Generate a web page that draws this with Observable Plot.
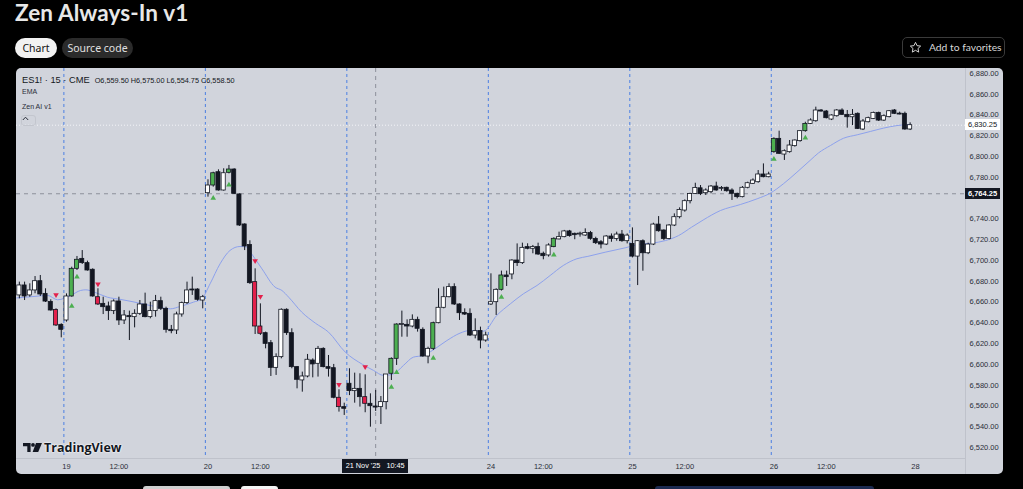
<!DOCTYPE html>
<html><head><meta charset="utf-8">
<script src="https://cdn.jsdelivr.net/npm/d3@7"></script>
<script src="https://cdn.jsdelivr.net/npm/@observablehq/plot@0.6"></script>
<style>
html,body{margin:0;padding:0;background:#000;}
body{width:1023px;height:489px;overflow:hidden;position:relative;font-family:"Liberation Sans",Arial,sans-serif;}
#title{position:absolute;left:15px;top:-1px;font:700 22.5px Lato,"Open Sans",sans-serif;color:#e8e8e8;white-space:nowrap;letter-spacing:0.1px;}
.pill{position:absolute;top:38px;height:20px;border-radius:10px;font:400 10.5px "Noto Sans",Inter,sans-serif;line-height:20px;text-align:center;white-space:nowrap;}
#fav{position:absolute;left:902px;top:37px;width:101px;height:19px;border:1px solid #3a3a3a;border-radius:5px;color:#d8d8d8;font:400 10.3px Lato,"Noto Sans",sans-serif;line-height:19px;white-space:nowrap;}
#panel{position:absolute;left:16px;top:68px;width:987px;height:406px;background:#d1d4dc;border-radius:5px;overflow:hidden;}
#panel svg{position:absolute;left:0;top:0;}
.ov{position:absolute;white-space:nowrap;color:#131722;}
.strip{position:absolute;top:486px;height:4px;border-radius:3px 3px 0 0;}
</style></head>
<body>
<div id="title">Zen Always-In v1</div>
<div class="pill" style="left:15px;width:42px;background:#f2f2f2;color:#111;">Chart</div>
<div class="pill" style="left:62px;width:71px;background:#2b2b2b;color:#e0e0e0;">Source code</div>
<div id="fav"><svg width="13" height="13" viewBox="0 0 24 24" style="position:absolute;left:6px;top:3px"><path d="M12 2.5l2.9 6.1 6.6.8-4.9 4.5 1.3 6.6L12 17.2l-5.9 3.3 1.3-6.6-4.9-4.5 6.6-.8z" fill="none" stroke="#d8d8d8" stroke-width="1.8" stroke-linejoin="round"/></svg><span style="position:absolute;left:26px;top:0">Add to favorites</span></div>
<div id="panel"></div>
<div class="strip" style="left:143px;width:87px;background:#cfcfcf;"></div>
<div class="strip" style="left:241px;width:37px;background:#f4f4f4;"></div>
<div class="strip" style="left:655px;width:219px;background:#1c2a50;"></div>
<script>
// ---- data (bar index 0 = 19 Nov 09:30, 15-min bars, 27 per session) ----
const barStart = -9;
const opens = [
6666.4,6676.0,6666.4,6671.2,6680.1,6667.9,6660.2,6652.5,6638.1,6642.3,
6665.4,6692.0,6701.6,6697.5,6691.1,6664.7,6658.3,6655.8,6651.3,6660.6,
6642.3,6646.5,6645.5,6648.7,6657.7,6645.5,6651.3,6660.9,6653.5,6633.3,
6632.7,6648.1,6659.0,6671.8,6672.1,6661.5,6764.8,6772.2,6785.0,6767.4,
6784.4,6787.6,6763.6,6734.7,6715.0,6679.2,6636.5,6630.1,6620.5,6596.7,
6607.0,6652.6,6630.1,6597.4,6584.6,6588.4,6603.8,6600.6,6615.0,6597.4,
6596.4,6567.9,6558.9,6581.4,6574.3,6576.5,6568.5,6562.1,6559.5,6558.9,
6563.7,6591.0,6605.4,6638.0,6638.1,6636.5,6642.9,6633.3,6607.6,6615.0,
6639.7,6654.5,6664.7,6674.4,6657.7,6649.6,6648.7,6627.8,6632.1,6623.0,
6657.7,6659.9,6671.8,6685.6,6686.6,6700.0,6697.5,6712.9,6711.3,6712.9,
6706.5,6704.9,6712.9,6720.3,6722.5,6728.0,6725.7,6725.0,6724.1,6726.4,
6720.8,6717.6,6715.4,6723.1,6720.8,6725.0,6718.6,6716.0,6703.8,6718.6,
6707.0,6715.4,6734.6,6728.9,6720.8,6733.7,6741.7,6748.1,6757.1,6764.1,
6769.5,6764.8,6765.8,6771.2,6769.0,6770.0,6767.4,6764.2,6761.0,6770.0,
6773.8,6775.4,6782.8,6780.2,6804.3,6817.1,6802.0,6804.3,6810.1,6814.9,
6824.5,6831.5,6834.1,6844.4,6843.4,6835.7,6838.9,6844.4,6840.2,6837.9,
6841.2,6826.1,6833.1,6836.3,6842.1,6834.7,6838.0,6844.4,6841.2,6841.2,
6826.1];
const highs = [
6679.2,6679.2,6677.6,6684.6,6685.6,6672.8,6662.2,6653.5,6639.1,6667.9,
6693.6,6703.9,6709.6,6699.4,6692.0,6672.8,6664.7,6660.0,6662.2,6664.7,
6651.9,6651.3,6652.6,6661.5,6668.6,6659.9,6666.4,6664.7,6655.1,6637.5,
6650.3,6660.0,6679.2,6684.0,6672.8,6666.4,6777.7,6785.0,6787.3,6788.3,
6791.5,6788.3,6764.2,6735.3,6719.0,6692.0,6658.3,6631.1,6623.0,6610.2,
6653.5,6653.5,6634.3,6598.0,6592.6,6609.6,6605.4,6617.3,6616.0,6608.6,
6600.0,6575.6,6562.7,6595.8,6591.6,6591.0,6590.0,6571.7,6575.0,6569.1,
6590.3,6606.3,6639.1,6651.3,6642.9,6647.7,6645.5,6635.2,6616.6,6640.7,
6672.8,6674.4,6677.6,6677.6,6658.3,6653.5,6653.5,6643.9,6635.9,6631.1,
6687.2,6672.8,6689.8,6689.8,6700.7,6716.0,6716.7,6716.1,6714.5,6716.7,
6708.1,6716.1,6721.9,6727.3,6729.0,6729.0,6726.4,6727.3,6730.5,6728.0,
6722.4,6719.2,6724.0,6725.6,6727.3,6728.9,6725.6,6731.4,6719.2,6719.9,
6716.7,6735.9,6742.3,6729.5,6734.6,6744.9,6750.7,6758.4,6764.8,6774.4,
6772.2,6769.0,6772.2,6775.4,6771.2,6770.6,6769.0,6764.8,6771.2,6775.4,
6778.6,6786.6,6793.0,6785.0,6818.1,6824.5,6806.5,6815.5,6816.1,6825.1,
6833.1,6836.4,6847.6,6845.3,6844.4,6840.2,6845.3,6846.0,6844.4,6845.3,
6842.1,6835.7,6838.0,6842.8,6842.8,6840.2,6844.4,6845.3,6842.8,6842.8,
6832.5];
const lows = [
6663.1,6661.5,6664.7,6668.0,6665.4,6659.6,6651.3,6636.5,6625.6,6640.7,
6664.7,6690.4,6696.2,6689.8,6664.7,6656.7,6648.0,6642.3,6648.0,6637.5,
6638.4,6623.0,6635.2,6647.1,6644.9,6643.9,6645.5,6651.9,6630.1,6629.5,
6628.8,6645.5,6657.7,6666.4,6660.9,6653.5,6761.0,6770.6,6766.8,6766.8,
6783.4,6763.6,6732.8,6709.6,6677.0,6628.8,6627.9,6615.0,6588.4,6589.4,
6605.4,6627.9,6595.8,6576.5,6573.3,6587.1,6587.1,6587.8,6596.7,6587.8,
6566.9,6554.1,6550.9,6570.0,6562.7,6558.9,6553.5,6539.6,6554.75,6542.2,
6556.3,6584.5,6599.0,6626.2,6626.2,6635.2,6631.1,6607.0,6600.6,6613.4,
6639.1,6653.5,6664.1,6656.7,6642.3,6647.1,6626.9,6624.6,6615.0,6621.4,
6656.7,6647.1,6670.6,6675.0,6681.5,6694.3,6696.2,6710.3,6706.5,6704.9,
6700.7,6703.3,6712.3,6719.9,6721.9,6722.5,6720.0,6722.5,6723.2,6719.5,
6715.4,6711.2,6714.4,6717.6,6718.6,6717.6,6716.0,6702.5,6675.9,6689.7,
6705.7,6714.4,6727.3,6719.2,6719.9,6732.7,6740.1,6746.5,6754.5,6763.5,
6762.5,6762.6,6764.2,6766.7,6766.7,6765.8,6757.8,6759.4,6760.3,6769.0,
6773.2,6774.4,6779.6,6779.6,6803.3,6802.0,6796.3,6803.3,6809.1,6813.9,
6823.5,6830.9,6833.1,6842.8,6836.3,6834.7,6838.0,6839.6,6827.4,6829.9,
6826.1,6825.1,6832.5,6835.7,6833.8,6833.8,6837.3,6840.5,6840.2,6825.4,
6825.1];
const closes = [
6676.0,6665.4,6671.2,6680.1,6667.3,6660.5,6651.9,6637.5,6633.3,6665.4,
6692.0,6700.7,6697.5,6690.4,6665.4,6657.7,6655.1,6651.3,6660.6,6642.3,
6647.1,6645.5,6648.7,6657.7,6645.5,6651.3,6660.9,6653.5,6633.3,6632.0,
6648.1,6659.0,6671.2,6671.2,6662.2,6664.7,6772.2,6784.0,6767.4,6784.0,
6787.6,6764.2,6733.7,6713.5,6678.2,6636.5,6629.5,6619.8,6596.7,6607.0,
6652.6,6630.1,6597.4,6585.2,6588.4,6604.5,6600.0,6615.0,6597.4,6595.8,
6567.9,6558.9,6557.3,6574.3,6576.5,6568.5,6562.1,6559.8,6558.5,6563.7,
6590.3,6605.4,6638.4,6638.5,6636.5,6642.9,6634.3,6607.6,6615.0,6639.7,
6654.5,6664.7,6674.4,6657.7,6649.3,6648.0,6627.8,6632.0,6623.0,6627.9,
6659.9,6671.8,6685.6,6684.0,6700.0,6697.5,6712.2,6711.3,6712.9,6705.8,
6704.2,6714.5,6720.9,6722.5,6728.0,6723.5,6724.4,6725.1,6726.4,6720.9,
6716.7,6715.4,6723.1,6720.8,6725.0,6718.6,6724.0,6703.8,6718.6,6707.0,
6715.4,6734.6,6728.2,6720.8,6733.7,6741.7,6748.7,6757.1,6764.1,6769.9,
6764.0,6767.4,6771.2,6767.4,6769.3,6766.7,6764.2,6761.0,6770.0,6774.4,
6777.0,6782.8,6780.2,6782.8,6817.1,6802.7,6805.2,6810.7,6815.5,6824.5,
6831.5,6834.8,6844.4,6843.4,6837.0,6839.6,6844.4,6840.2,6837.9,6840.2,
6826.7,6833.8,6837.0,6842.1,6834.7,6838.9,6843.7,6841.2,6840.5,6826.1,
6830.25];

// Zen AI signals (bar index, marker level)
const buyBars  = [1,2,28,31,62,63,70,83,93,135,141];
const buyMarks = [6656.7,6684.9,6760.6,6773.5,6578.7,6592.9,6606.6,6665.4,6706.1,6798.2,6818.7];
const sellBars  = [-2,6,36,37,52,57];
const sellMarks = [6666.3,6676.6,6699.0,6664.7,6580.0,6597.0];

// EMA
const emaBars = [
-9.5,-6.2,-3.6,-1.7,0.8,2.7,3.7,5.3,7.8,10.4,
12.5,16,19.8,21.7,24.2,25.8,27.4,29.3,31.2,33.1,
34.4,35.1,37.3,39.8,41.1,42.4,44.9,47.5,50,53.2,
56.5,58.6,60.5,62.4,64.3,66.2,68.1,70,72.6,75.1,
77,78.8,79.6,82.1,84.7,87.2,89.8,92.3,94.8,97.4,
99.5,102.8,106.6,109.2,111.7,114.3,116.8,119.3,121.5,124.8,
128.6,131.8,134.3,136.8,139.4,141.9,143.5,145.8,148.3,150.9,
153.4,155.9,158.5,161];
const emaValues = [
6664,6665.4,6666.4,6662.2,6666.4,6671.2,6671.8,6669.6,6664.7,6662.5,
6660.5,6656.7,6653.5,6655.8,6659.9,6663.1,6677.6,6696.8,6709.7,6713.5,
6712.9,6708.1,6692,6674.4,6671.2,6664.7,6650.3,6639.7,6631.1,6611.8,
6600,6594.2,6589.4,6590.9,6599,6607,6608.6,6614,6623,6630.1,
6632.7,6632,6632,6647.1,6658.3,6668,6676,6685.6,6695.2,6701.7,
6704,6708,6712.2,6715.4,6716.7,6719.2,6724,6732.1,6739,6748.1,
6753.9,6759.4,6764.8,6773.8,6785,6796.3,6803.5,6810.7,6817.7,6821,
6824.2,6827.4,6829.9,6831];

// axes / annotations
const sessionStartBars = [0,27,54,81,108,135];
const timeTickBars   = [0,10,27,37,81,91,108,118,135,145,162];
const timeTickLabels = ["19","12:00","20","12:00","24","12:00","25","12:00","26","12:00","28"];
const priceTicks = [6520,6540,6560,6580,6600,6620,6640,6660,6680,6700,6720,6740,6780,6800,6820,6840,6860,6880];
const crossBar = 59, crossPrice = 6764.25, lastPrice = 6830.25;
const crossTimeText = ["21 Nov '25", "10:45"];
const legendSymbol = "ES1! · 15 · CME";
const legendOHLC = [["O", 6559.50], ["H", 6575.00], ["L", 6554.75], ["C", 6558.50]];
const legendStudies = ["EMA", "Zen AI v1"];

// ---- build ----
const GREEN = "#4caf50", RED = "#e3204b", INK = "#131722";
const bars = opens.map((o, k) => ({i: barStart + k, o, h: highs[k], l: lows[k], c: closes[k]}));
const sig = new Map();
buyBars.forEach(b => sig.set(b, "buy"));
sellBars.forEach(b => sig.set(b, "sell"));
const bodyFill = d => sig.get(d.i) === "buy" ? GREEN : sig.get(d.i) === "sell" ? RED : (d.c >= d.o ? "#ffffff" : INK);
const buys = buyBars.map((b, k) => ({i: b, v: buyMarks[k]}));
const sells = sellBars.map((b, k) => ({i: b, v: sellMarks[k]}));
const ema = emaBars.map((b, k) => ({i: b, v: emaValues[k]}));
const triUp = {draw(ctx) { ctx.moveTo(-2.8, 2.3); ctx.lineTo(2.8, 2.3); ctx.lineTo(0, -2.5); ctx.closePath(); }};
const triDown = {draw(ctx) { ctx.moveTo(-2.8, -2.3); ctx.lineTo(2.8, -2.3); ctx.lineTo(0, 2.5); ctx.closePath(); }};
const tickLabel = new Map(timeTickBars.map((b, k) => [b, timeTickLabels[k]]));

const chart = Plot.plot({
  width: 987, height: 406,
  marginTop: 0, marginLeft: 0, marginRight: 38, marginBottom: 16,
  style: {background: "transparent", fontFamily: "'Liberation Sans', Arial, sans-serif", fontSize: "7.5px", color: "#2a2e39", overflow: "visible"},
  x: {type: "linear", domain: [-9.542, 171.565], axis: null, label: null},
  y: {domain: [6509.46, 6884.81], axis: null, label: null},
  color: {type: "identity"},
  marks: [
    Plot.ruleX(sessionStartBars, {x: d => d - 0.5, stroke: "#4b7fe3", strokeDasharray: "3,3", strokeWidth: 1}),
    Plot.ruleY([crossPrice], {stroke: "#8c909b", strokeDasharray: "4,4"}),
    Plot.ruleX([crossBar], {stroke: "#8c909b", strokeDasharray: "4,4"}),
    Plot.ruleY([lastPrice], {stroke: "#f3f4f8", strokeDasharray: "1,2"}),
    Plot.line(ema, {x: "i", y: "v", stroke: "#8da1ec", strokeWidth: 1, curve: "monotone-x"}),
    Plot.ruleX(bars, {x: "i", y1: "l", y2: "h", stroke: INK, strokeWidth: 1}),
    Plot.rect(bars, {
      x1: d => d.i - 0.39, x2: d => d.i + 0.39,
      y1: d => Math.min(d.o, d.c),
      y2: d => Math.max(d.o, d.c, Math.min(d.o, d.c) + 0.9),
      fill: bodyFill, stroke: INK, strokeWidth: 0.8
    }),
    Plot.dot(buys, {x: "i", y: "v", symbol: triUp, fill: GREEN, stroke: "none"}),
    Plot.dot(sells, {x: "i", y: "v", symbol: triDown, fill: RED, stroke: "none"}),
    Plot.axisY(priceTicks, {anchor: "right", label: null, tickSize: 0, tickPadding: 4, tickFormat: d3.format(",.2f"), fill: "#2a2e39", fontSize: 7.5}),
    Plot.axisX(timeTickBars, {anchor: "bottom", label: null, tickSize: 0, tickPadding: 5, tickFormat: d => tickLabel.get(d), fill: "#2a2e39", fontSize: 7.5})
  ]
});

const panel = document.getElementById("panel");
panel.appendChild(chart);
const xs = chart.scale("x"), ys = chart.scale("y");
const plotRight = 949, plotBottom = 390;

function ov(html, css) {
  const d = document.createElement("div");
  d.className = "ov";
  d.innerHTML = html;
  Object.assign(d.style, css);
  panel.appendChild(d);
  return d;
}
// separators
ov("", {left: plotRight + "px", top: "0px", width: "1px", height: "406px", background: "#bfc2cb"});
ov("", {left: "0px", top: plotBottom + "px", width: plotRight + "px", height: "1px", background: "#bfc2cb"});

// legend
const fmt = d3.format(",.2f");
ov(`<span style="font-size:9.3px">${legendSymbol}</span><span style="font-size:7.3px;margin-left:5px">${legendOHLC.map(([k, v]) => k + fmt(v)).join(" ")}</span>`,
   {left: "6px", top: "5px", lineHeight: "10px"});
legendStudies.forEach((s, k) => ov(s, {left: "6px", top: (19 + k * 15) + "px", fontSize: "7px", lineHeight: "9px", color: "#2a2e39"}));
ov(`<svg width="7" height="5" viewBox="0 0 7 5"><path d="M0.8 4 L3.5 1.2 L6.2 4" fill="none" stroke="#2a2e39" stroke-width="1"/></svg>`,
   {left: "5px", top: "47px", width: "15px", height: "11px", border: "1px solid #c3c6ce", borderRadius: "3px", textAlign: "center", lineHeight: "9px", boxSizing: "border-box"});

// price labels
const ly = ys.apply(lastPrice);
ov(fmt(lastPrice), {left: plotRight + "px", top: (ly - 5.5) + "px", width: "35px", height: "11px", background: "#ffffff", fontSize: "7.5px", lineHeight: "11px", textAlign: "center", color: INK});
const cy = ys.apply(crossPrice);
ov(fmt(crossPrice), {left: plotRight + "px", top: (cy - 5.5) + "px", width: "35px", height: "11px", background: INK, fontSize: "7.5px", fontWeight: "bold", lineHeight: "11px", textAlign: "center", color: "#ffffff"});
// crosshair time label
const cx = xs.apply(crossBar);
ov(`${crossTimeText[0]}&nbsp;&nbsp;&nbsp;${crossTimeText[1]}`, {left: (cx - 33) + "px", top: (plotBottom + 1) + "px", width: "66px", height: "14px", background: INK, color: "#ffffff", fontSize: "7.3px", lineHeight: "14px", textAlign: "center"});

// TradingView watermark
ov(`<svg width="19" height="9" viewBox="0 0 19 9" style="position:absolute;left:0;top:2px"><path d="M0 0H7.6V9H4.3V3.2H0Z" fill="#131722"/><circle cx="10" cy="1.9" r="1.9" fill="#131722"/><path d="M13 0H19L15.2 9H9.6Z" fill="#131722"/></svg><span style="position:absolute;left:21px;top:0;font:700 12.5px 'Open Sans',sans-serif;line-height:13px;color:#131722;text-shadow:0 0 2px #fff,0 0 2px #fff">TradingView</span>`,
   {left: "7px", top: "373px", width: "100px", height: "14px"});
</script>
</body></html>
